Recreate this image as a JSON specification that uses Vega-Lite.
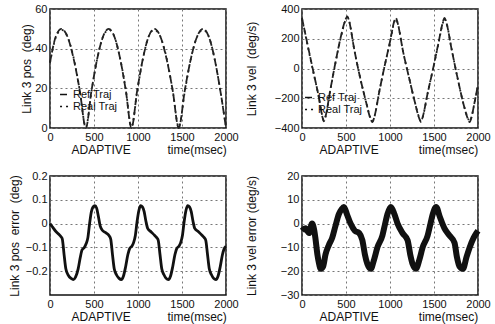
{
  "$schema": "https://vega.github.io/schema/vega-lite/v6.json",
  "background": "white",
  "padding": {"left": 7, "top": 2, "right": 2, "bottom": 2},
  "autosize": {"type": "pad"},
  "columns": 2,
  "bounds": "flush",
  "spacing": {"row": 48, "column": 76},
  "resolve": {"scale": {"strokeDash": "independent"}, "legend": {"strokeDash": "independent"}},
  "datasets": {
    "pos": [
      {"t": 0, "Ref Traj": 33, "Real Traj": 33},
      {"t": 65, "Ref Traj": 46, "Real Traj": 45.5},
      {"t": 130, "Ref Traj": 50, "Real Traj": 49.5},
      {"t": 199, "Ref Traj": 46, "Real Traj": 46},
      {"t": 268, "Ref Traj": 35, "Real Traj": 35.5},
      {"t": 338, "Ref Traj": 19, "Real Traj": 19},
      {"t": 407, "Ref Traj": 0, "Real Traj": 0.5},
      {"t": 472, "Ref Traj": 19, "Real Traj": 18.5},
      {"t": 537, "Ref Traj": 35, "Real Traj": 35},
      {"t": 602, "Ref Traj": 46, "Real Traj": 46},
      {"t": 667, "Ref Traj": 50, "Real Traj": 49.5},
      {"t": 732, "Ref Traj": 46, "Real Traj": 46},
      {"t": 797, "Ref Traj": 35, "Real Traj": 35},
      {"t": 861, "Ref Traj": 19, "Real Traj": 19.5},
      {"t": 926, "Ref Traj": 0, "Real Traj": 0.5},
      {"t": 991, "Ref Traj": 19, "Real Traj": 18.5},
      {"t": 1056, "Ref Traj": 35, "Real Traj": 35},
      {"t": 1120, "Ref Traj": 46, "Real Traj": 46},
      {"t": 1185, "Ref Traj": 50, "Real Traj": 49.5},
      {"t": 1255, "Ref Traj": 46, "Real Traj": 46},
      {"t": 1324, "Ref Traj": 35, "Real Traj": 35.5},
      {"t": 1394, "Ref Traj": 19, "Real Traj": 19},
      {"t": 1463, "Ref Traj": 0, "Real Traj": 0.5},
      {"t": 1532, "Ref Traj": 19, "Real Traj": 18.5},
      {"t": 1601, "Ref Traj": 35, "Real Traj": 35},
      {"t": 1671, "Ref Traj": 46, "Real Traj": 46},
      {"t": 1740, "Ref Traj": 50, "Real Traj": 49.5},
      {"t": 1805, "Ref Traj": 46, "Real Traj": 46},
      {"t": 1870, "Ref Traj": 35, "Real Traj": 35},
      {"t": 1935, "Ref Traj": 19, "Real Traj": 19},
      {"t": 2000, "Ref Traj": 0, "Real Traj": 0.5}
    ],
    "vel": [
      {"t": 0, "Ref Traj": 340, "Real Traj": 335},
      {"t": 60, "Ref Traj": 170, "Real Traj": 165},
      {"t": 125, "Ref Traj": -10, "Real Traj": -15},
      {"t": 190, "Ref Traj": -190, "Real Traj": -190},
      {"t": 230, "Ref Traj": -320, "Real Traj": -315},
      {"t": 248, "Ref Traj": -355, "Real Traj": -350},
      {"t": 268, "Ref Traj": -320, "Real Traj": -325},
      {"t": 320, "Ref Traj": -150, "Real Traj": -150},
      {"t": 380, "Ref Traj": 40, "Real Traj": 35},
      {"t": 440, "Ref Traj": 210, "Real Traj": 205},
      {"t": 495, "Ref Traj": 330, "Real Traj": 325},
      {"t": 514, "Ref Traj": 350, "Real Traj": 345},
      {"t": 535, "Ref Traj": 320, "Real Traj": 320},
      {"t": 590, "Ref Traj": 140, "Real Traj": 140},
      {"t": 660, "Ref Traj": -60, "Real Traj": -60},
      {"t": 730, "Ref Traj": -230, "Real Traj": -230},
      {"t": 780, "Ref Traj": -340, "Real Traj": -335},
      {"t": 800, "Ref Traj": -360, "Real Traj": -355},
      {"t": 820, "Ref Traj": -330, "Real Traj": -330},
      {"t": 880, "Ref Traj": -150, "Real Traj": -150},
      {"t": 940, "Ref Traj": 20, "Real Traj": 20},
      {"t": 1000, "Ref Traj": 180, "Real Traj": 175},
      {"t": 1050, "Ref Traj": 320, "Real Traj": 315},
      {"t": 1067, "Ref Traj": 340, "Real Traj": 335},
      {"t": 1085, "Ref Traj": 310, "Real Traj": 310},
      {"t": 1150, "Ref Traj": 110, "Real Traj": 110},
      {"t": 1220, "Ref Traj": -70, "Real Traj": -70},
      {"t": 1280, "Ref Traj": -220, "Real Traj": -220},
      {"t": 1335, "Ref Traj": -340, "Real Traj": -335},
      {"t": 1352, "Ref Traj": -360, "Real Traj": -355},
      {"t": 1370, "Ref Traj": -330, "Real Traj": -330},
      {"t": 1430, "Ref Traj": -160, "Real Traj": -160},
      {"t": 1490, "Ref Traj": 0, "Real Traj": 0},
      {"t": 1550, "Ref Traj": 170, "Real Traj": 165},
      {"t": 1600, "Ref Traj": 310, "Real Traj": 305},
      {"t": 1619, "Ref Traj": 340, "Real Traj": 335},
      {"t": 1640, "Ref Traj": 310, "Real Traj": 310},
      {"t": 1700, "Ref Traj": 130, "Real Traj": 130},
      {"t": 1770, "Ref Traj": -70, "Real Traj": -70},
      {"t": 1840, "Ref Traj": -250, "Real Traj": -250},
      {"t": 1890, "Ref Traj": -345, "Real Traj": -340},
      {"t": 1905, "Ref Traj": -360, "Real Traj": -355},
      {"t": 1925, "Ref Traj": -330, "Real Traj": -330},
      {"t": 1960, "Ref Traj": -230, "Real Traj": -230},
      {"t": 2000, "Ref Traj": -110, "Real Traj": -110}
    ],
    "poserr": [
      {"t": 0, "e": 0.0}, {"t": 30, "e": -0.015}, {"t": 60, "e": -0.03}, {"t": 100, "e": -0.045},
      {"t": 125, "e": -0.055}, {"t": 140, "e": -0.065}, {"t": 160, "e": -0.13}, {"t": 180, "e": -0.19},
      {"t": 205, "e": -0.215}, {"t": 240, "e": -0.23}, {"t": 265, "e": -0.235}, {"t": 290, "e": -0.225},
      {"t": 320, "e": -0.19}, {"t": 345, "e": -0.14}, {"t": 365, "e": -0.11}, {"t": 390, "e": -0.1},
      {"t": 410, "e": -0.085}, {"t": 430, "e": -0.06}, {"t": 450, "e": 0.0}, {"t": 470, "e": 0.05},
      {"t": 490, "e": 0.07}, {"t": 510, "e": 0.075}, {"t": 530, "e": 0.065}, {"t": 550, "e": 0.03},
      {"t": 570, "e": -0.01}, {"t": 600, "e": -0.03}, {"t": 640, "e": -0.04}, {"t": 670, "e": -0.05},
      {"t": 690, "e": -0.065}, {"t": 710, "e": -0.13}, {"t": 730, "e": -0.19}, {"t": 755, "e": -0.215},
      {"t": 785, "e": -0.23}, {"t": 810, "e": -0.235}, {"t": 835, "e": -0.22}, {"t": 860, "e": -0.18},
      {"t": 885, "e": -0.13}, {"t": 905, "e": -0.105}, {"t": 930, "e": -0.095}, {"t": 950, "e": -0.08},
      {"t": 970, "e": -0.05}, {"t": 990, "e": 0.01}, {"t": 1010, "e": 0.055}, {"t": 1030, "e": 0.075},
      {"t": 1050, "e": 0.07}, {"t": 1070, "e": 0.05}, {"t": 1090, "e": 0.01}, {"t": 1110, "e": -0.02},
      {"t": 1150, "e": -0.035}, {"t": 1190, "e": -0.05}, {"t": 1215, "e": -0.06}, {"t": 1230, "e": -0.07},
      {"t": 1250, "e": -0.13}, {"t": 1270, "e": -0.19}, {"t": 1295, "e": -0.215}, {"t": 1320, "e": -0.23},
      {"t": 1345, "e": -0.235}, {"t": 1370, "e": -0.22}, {"t": 1395, "e": -0.18}, {"t": 1420, "e": -0.13},
      {"t": 1440, "e": -0.105}, {"t": 1465, "e": -0.095}, {"t": 1485, "e": -0.08}, {"t": 1505, "e": -0.05},
      {"t": 1525, "e": 0.01}, {"t": 1545, "e": 0.055}, {"t": 1565, "e": 0.075}, {"t": 1585, "e": 0.07},
      {"t": 1605, "e": 0.05}, {"t": 1625, "e": 0.01}, {"t": 1645, "e": -0.02}, {"t": 1690, "e": -0.035},
      {"t": 1730, "e": -0.05}, {"t": 1755, "e": -0.06}, {"t": 1770, "e": -0.07}, {"t": 1790, "e": -0.13},
      {"t": 1810, "e": -0.19}, {"t": 1835, "e": -0.215}, {"t": 1860, "e": -0.23}, {"t": 1885, "e": -0.235},
      {"t": 1910, "e": -0.22}, {"t": 1935, "e": -0.18}, {"t": 1960, "e": -0.13}, {"t": 1980, "e": -0.105},
      {"t": 2000, "e": -0.095}
    ],
    "velerr": [
      {"t": 0, "e": -3}, {"t": 40, "e": -2}, {"t": 80, "e": -4}, {"t": 114, "e": 0}, {"t": 140, "e": -3},
      {"t": 152, "e": -6}, {"t": 175, "e": -13}, {"t": 195, "e": -17}, {"t": 210, "e": -19}, {"t": 240, "e": -18},
      {"t": 267, "e": -13}, {"t": 305, "e": -9}, {"t": 343, "e": -6}, {"t": 380, "e": -1}, {"t": 419, "e": 4},
      {"t": 450, "e": 6}, {"t": 476, "e": 7}, {"t": 510, "e": 4}, {"t": 552, "e": 0}, {"t": 600, "e": -3},
      {"t": 650, "e": -4}, {"t": 686, "e": -7}, {"t": 715, "e": -13}, {"t": 743, "e": -17}, {"t": 781, "e": -19},
      {"t": 820, "e": -15}, {"t": 857, "e": -10}, {"t": 914, "e": -5}, {"t": 945, "e": 0}, {"t": 971, "e": 4},
      {"t": 1010, "e": 7}, {"t": 1050, "e": 4}, {"t": 1086, "e": 0}, {"t": 1143, "e": -4}, {"t": 1200, "e": -7},
      {"t": 1230, "e": -13}, {"t": 1257, "e": -17}, {"t": 1295, "e": -19}, {"t": 1335, "e": -15}, {"t": 1371, "e": -10},
      {"t": 1428, "e": -5}, {"t": 1460, "e": 0}, {"t": 1486, "e": 4}, {"t": 1524, "e": 7}, {"t": 1565, "e": 3},
      {"t": 1619, "e": -2}, {"t": 1676, "e": -5}, {"t": 1733, "e": -8}, {"t": 1760, "e": -14}, {"t": 1790, "e": -18},
      {"t": 1829, "e": -19}, {"t": 1870, "e": -14}, {"t": 1905, "e": -10}, {"t": 1950, "e": -6}, {"t": 1981, "e": -4},
      {"t": 2000, "e": -3}
    ]
  },
  "concat": [
    {
      "width": 176, "height": 119,
      "data": {"name": "pos"},
      "transform": [{"fold": ["Ref Traj", "Real Traj"], "as": ["series", "value"]}],
      "mark": {"type": "line", "color": "#222", "strokeWidth": 1.8, "interpolate": "monotone"},
      "encoding": {
        "x": {"field": "t", "type": "quantitative", "scale": {"domain": [0, 2000], "nice": false},
              "axis": {"values": [0, 500, 1000, 1500, 2000], "format": "d", "title": "ADAPTIVE\u00a0\u00a0\u00a0\u00a0\u00a0\u00a0\u00a0\u00a0\u00a0\u00a0\u00a0time(msec)", "titleAnchor": "start", "titleAlign": "left", "titleX": 21}},
        "y": {"field": "value", "type": "quantitative", "scale": {"domain": [0, 60], "nice": false},
              "axis": {"values": [0, 20, 40, 60], "title": "Link 3 pos\u00a0\u00a0(deg)", "titleX": -17, "titleBaseline": "bottom"}},
        "strokeDash": {"field": "series", "type": "nominal",
                       "scale": {"domain": ["Ref Traj", "Real Traj"], "range": [[7, 3], [2, 4]]},
                       "legend": {"legendX": 9, "legendY": 80}}
      }
    },
    {
      "width": 176, "height": 119,
      "data": {"name": "vel"},
      "transform": [{"fold": ["Ref Traj", "Real Traj"], "as": ["series", "value"]}],
      "mark": {"type": "line", "color": "#222", "strokeWidth": 1.8, "interpolate": "monotone"},
      "encoding": {
        "x": {"field": "t", "type": "quantitative", "scale": {"domain": [0, 2000], "nice": false},
              "axis": {"values": [0, 500, 1000, 1500, 2000], "format": "d", "title": "ADAPTIVE\u00a0\u00a0\u00a0\u00a0\u00a0\u00a0\u00a0\u00a0\u00a0\u00a0\u00a0\u00a0time(msec)", "titleAnchor": "start", "titleAlign": "left", "titleX": 17}},
        "y": {"field": "value", "type": "quantitative", "scale": {"domain": [-400, 400], "nice": false},
              "axis": {"values": [-400, -200, 0, 200, 400], "title": "Link 3 vel\u00a0\u00a0(deg/s)", "titleX": -44, "titleBaseline": "bottom"}},
        "strokeDash": {"field": "series", "type": "nominal",
                       "scale": {"domain": ["Ref Traj", "Real Traj"], "range": [[7, 3], [2, 4]]},
                       "legend": {"legendX": 2, "legendY": 83}}
      }
    },
    {
      "width": 176, "height": 119,
      "data": {"name": "poserr"},
      "mark": {"type": "line", "color": "#111", "strokeWidth": 2.8, "interpolate": "monotone"},
      "encoding": {
        "x": {"field": "t", "type": "quantitative", "scale": {"domain": [0, 2000], "nice": false},
              "axis": {"values": [0, 500, 1000, 1500, 2000], "format": "d", "title": "ADAPTIVE\u00a0\u00a0\u00a0\u00a0\u00a0\u00a0\u00a0\u00a0\u00a0\u00a0\u00a0time(msec)", "titleAnchor": "start", "titleAlign": "left", "titleX": 21}},
        "y": {"field": "e", "type": "quantitative", "scale": {"domain": [-0.3, 0.2], "nice": false},
              "axis": {"values": [-0.2, -0.1, 0, 0.1, 0.2], "format": ".1~f", "title": "Link 3 pos\u00a0\u00a0error\u00a0\u00a0(deg)", "titleX": -29, "titleBaseline": "bottom"}}
      }
    },
    {
      "width": 176, "height": 119,
      "data": {"name": "velerr"},
      "mark": {"type": "line", "color": "#111", "strokeWidth": 6, "interpolate": "monotone"},
      "encoding": {
        "x": {"field": "t", "type": "quantitative", "scale": {"domain": [0, 2000], "nice": false},
              "axis": {"values": [0, 500, 1000, 1500, 2000], "format": "d", "title": "ADAPTIVE\u00a0\u00a0\u00a0\u00a0\u00a0\u00a0\u00a0\u00a0\u00a0\u00a0\u00a0\u00a0time(msec)", "titleAnchor": "start", "titleAlign": "left", "titleX": 17}},
        "y": {"field": "e", "type": "quantitative", "scale": {"domain": [-30, 20], "nice": false},
              "axis": {"values": [-30, -20, -10, 0, 10, 20], "title": "Link 3 vel\u00a0error\u00a0(deg/s)", "titleX": -44, "titleBaseline": "bottom"}}
      }
    }
  ],
  "config": {
    "view": {"stroke": "#111", "strokeWidth": 1.5},
    "axis": {
      "grid": true, "gridColor": "#777", "gridDash": [2, 3], "gridWidth": 1,
      "ticks": false, "domain": false, "labelFlush": false, "labelOverlap": false,
      "labelFont": "Liberation Sans", "labelFontSize": 11, "labelColor": "#111", "labelPadding": 3,
      "titleFont": "Liberation Sans", "titleFontSize": 12, "titleFontWeight": "normal", "titleColor": "#111"
    },
    "axisX": {"titlePadding": 2},
    "legend": {
      "orient": "none", "title": null, "labelFont": "Liberation Sans", "labelFontSize": 11, "labelColor": "#111",
      "symbolType": "stroke", "symbolStrokeColor": "#111", "symbolStrokeWidth": 1.5, "symbolSize": 80,
      "rowPadding": 0, "labelOffset": 3, "padding": 0
    }
  }
}
